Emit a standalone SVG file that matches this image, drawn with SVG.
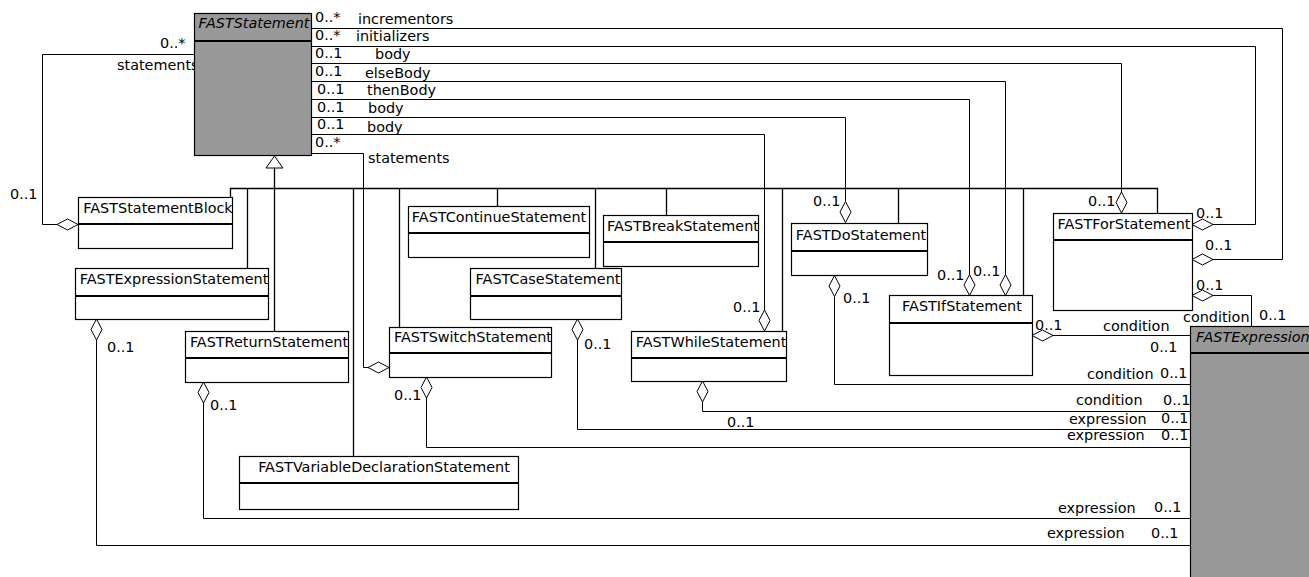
<svg xmlns="http://www.w3.org/2000/svg" xmlns:xlink="http://www.w3.org/1999/xlink" width="1309" height="577" viewBox="0 0 1309 577">
<style>
.box{fill:#fff;stroke:#000;stroke-width:1.2}
.abs{fill:#999}
.sep{stroke:#000;stroke-width:2}
text{font-family:"DejaVu Sans","Liberation Sans",sans-serif;font-size:14.4px;fill:#000}
.ttl{text-anchor:middle}
.it{font-style:italic}
.c{fill:none;stroke:#000;stroke-width:1}
.g{fill:none;stroke:#000;stroke-width:1.3}
.dia{fill:#fff;stroke:#000;stroke-width:1}
</style>
<defs>
<polygon id="dh" class="dia" points="-10.5,0 0,-5.5 10.5,0 0,5.5"/>
<polygon id="dv" class="dia" points="0,-10.5 5.5,0 0,10.5 -5.5,0"/>
</defs>
<rect width="1309" height="577" fill="#fff"/>

<g id="connectors">
  <g id="generalization">
    <path class="g" d="M274.5,168 V331"/>
    <path class="g" d="M230.5,197 V188.5 H1157.5 V213"/>
    <path class="g" d="M247.5,188 V268 M353.5,188 V456 M399.5,188 V327 M497.5,188 V206 M595.5,188 V268 M666.5,188 V215 M782.5,188 V331 M898.5,188 V223 M1023.5,188 V295"/>
    <polygon class="dia" points="274.5,156 266,168 283,168"/>
  </g>
  <g id="associations">
    <path class="c" d="M194,54.5 H42.5 V224.5 H57"/>
    <path class="c" d="M311,28.5 H1282.5 V259.5 H1213"/>
    <path class="c" d="M311,46.5 H1255.5 V224.5 H1213"/>
    <path class="c" d="M311,63.5 H1121.5 V192"/>
    <path class="c" d="M311,81.5 H1005.5 V275"/>
    <path class="c" d="M311,99.5 H969.5 V275"/>
    <path class="c" d="M311,117.5 H845.5 V201"/>
    <path class="c" d="M311,134.5 H764.5 V310"/>
    <path class="c" d="M311,153.5 H363.5 V367.5 H368"/>
    <path class="c" d="M1053,335.5 H1190"/>
    <path class="c" d="M1213,295.5 H1251.5 V326"/>
    <path class="c" d="M834.5,297 V384.5 H1190"/>
    <path class="c" d="M702.5,402 V411.5 H1190"/>
    <path class="c" d="M577.5,340 V429.5 H1190"/>
    <path class="c" d="M426.5,398 V447.5 H1190"/>
    <path class="c" d="M203.5,403 V518.5 H1190"/>
    <path class="c" d="M96.5,340 V545.5 H1190"/>
    <use xlink:href="#dh" x="67.5" y="224.5"/>
    <use xlink:href="#dh" x="1202.5" y="259.5"/>
    <use xlink:href="#dh" x="1202.5" y="224.5"/>
    <use xlink:href="#dv" x="1121.5" y="202.5"/>
    <use xlink:href="#dv" x="1005.5" y="285"/>
    <use xlink:href="#dv" x="969.5" y="285"/>
    <use xlink:href="#dv" x="845.5" y="212"/>
    <use xlink:href="#dv" x="764.5" y="320.5"/>
    <use xlink:href="#dh" x="378.5" y="367.5"/>
    <use xlink:href="#dh" x="1042.5" y="335.5"/>
    <use xlink:href="#dh" x="1202.5" y="295.5"/>
    <use xlink:href="#dv" x="834.5" y="286"/>
    <use xlink:href="#dv" x="702.5" y="391.5"/>
    <use xlink:href="#dv" x="577.5" y="329.5"/>
    <use xlink:href="#dv" x="426.5" y="387.5"/>
    <use xlink:href="#dv" x="203.5" y="392.5"/>
    <use xlink:href="#dv" x="96.5" y="329.5"/>
  </g>
  <g id="labels">
    <text x="160" y="48">0..*</text>
    <text x="117" y="70">statements</text>
    <text x="10" y="199">0..1</text>
    <text x="315" y="22">0..*</text>
    <text x="358" y="24">incrementors</text>
    <text x="315" y="40">0..*</text>
    <text x="356" y="41">initializers</text>
    <text x="315" y="58">0..1</text>
    <text x="375" y="59">body</text>
    <text x="315" y="76">0..1</text>
    <text x="365" y="78">elseBody</text>
    <text x="317" y="94">0..1</text>
    <text x="367" y="95">thenBody</text>
    <text x="317" y="112">0..1</text>
    <text x="368" y="113">body</text>
    <text x="317" y="129">0..1</text>
    <text x="367" y="132">body</text>
    <text x="315" y="147">0..*</text>
    <text x="368" y="163">statements</text>
    <text x="1205" y="250">0..1</text>
    <text x="1196" y="218">0..1</text>
    <text x="1088" y="206">0..1</text>
    <text x="973" y="276">0..1</text>
    <text x="937" y="280">0..1</text>
    <text x="813" y="206">0..1</text>
    <text x="733" y="312">0..1</text>
    <text x="1035" y="330">0..1</text>
    <text x="1103" y="331">condition</text>
    <text x="1150" y="352">0..1</text>
    <text x="1196" y="290">0..1</text>
    <text x="1183" y="322">condition</text>
    <text x="1259" y="320">0..1</text>
    <text x="843" y="303">0..1</text>
    <text x="1087" y="379">condition</text>
    <text x="1160" y="378">0..1</text>
    <text x="1076" y="405">condition</text>
    <text x="1163" y="405">0..1</text>
    <text x="727" y="427">0..1</text>
    <text x="584" y="349">0..1</text>
    <text x="1069" y="424">expression</text>
    <text x="1161" y="423">0..1</text>
    <text x="394" y="400">0..1</text>
    <text x="1067" y="440">expression</text>
    <text x="1161" y="440">0..1</text>
    <text x="210" y="410">0..1</text>
    <text x="1058" y="513">expression</text>
    <text x="1154" y="512">0..1</text>
    <text x="107" y="352">0..1</text>
    <text x="1047" y="538">expression</text>
    <text x="1151" y="538">0..1</text>
  </g>
</g>

<g id="FASTStatement">
  <rect class="box abs" x="194.5" y="13.5" width="117" height="142"/>
  <line class="sep" x1="194.5" y1="41" x2="311.5" y2="41"/>
  <text class="ttl it" x="254" y="28">FASTStatement</text>
</g>
<g id="FASTStatementBlock">
  <rect class="box" x="78.5" y="197.5" width="154" height="51"/>
  <line class="sep" x1="78.5" y1="224" x2="232.5" y2="224"/>
  <text class="ttl" x="158" y="213">FASTStatementBlock</text>
</g>
<g id="FASTExpressionStatement">
  <rect class="box" x="75.5" y="268.5" width="193" height="51"/>
  <line class="sep" x1="75.5" y1="296" x2="268.5" y2="296"/>
  <text class="ttl" x="174" y="284">FASTExpressionStatement</text>
</g>
<g id="FASTReturnStatement">
  <rect class="box" x="185.5" y="331.5" width="163" height="51"/>
  <line class="sep" x1="185.5" y1="358" x2="348.5" y2="358"/>
  <text class="ttl" x="269" y="347">FASTReturnStatement</text>
</g>
<g id="FASTVariableDeclarationStatement">
  <rect class="box" x="239.5" y="456.5" width="279" height="53"/>
  <line class="sep" x1="239.5" y1="483" x2="518.5" y2="483"/>
  <text class="ttl" x="384" y="472">FASTVariableDeclarationStatement</text>
</g>
<g id="FASTContinueStatement">
  <rect class="box" x="408.5" y="206.5" width="181" height="51"/>
  <line class="sep" x1="408.5" y1="233" x2="589.5" y2="233"/>
  <text class="ttl" x="499" y="222">FASTContinueStatement</text>
</g>
<g id="FASTCaseStatement">
  <rect class="box" x="470.5" y="268.5" width="151" height="51"/>
  <line class="sep" x1="470.5" y1="296" x2="621.5" y2="296"/>
  <text class="ttl" x="548" y="284">FASTCaseStatement</text>
</g>
<g id="FASTSwitchStatement">
  <rect class="box" x="389.5" y="327.5" width="162" height="50"/>
  <line class="sep" x1="389.5" y1="353" x2="551.5" y2="353"/>
  <text class="ttl" x="473" y="342">FASTSwitchStatement</text>
</g>
<g id="FASTBreakStatement">
  <rect class="box" x="603.5" y="215.5" width="155" height="51"/>
  <line class="sep" x1="603.5" y1="242" x2="758.5" y2="242"/>
  <text class="ttl" x="683" y="231">FASTBreakStatement</text>
</g>
<g id="FASTWhileStatement">
  <rect class="box" x="631.5" y="331.5" width="155" height="50"/>
  <line class="sep" x1="631.5" y1="358" x2="786.5" y2="358"/>
  <text class="ttl" x="711" y="347">FASTWhileStatement</text>
</g>
<g id="FASTDoStatement">
  <rect class="box" x="791.5" y="223.5" width="136" height="52"/>
  <line class="sep" x1="791.5" y1="251" x2="927.5" y2="251"/>
  <text class="ttl" x="861" y="240">FASTDoStatement</text>
</g>
<g id="FASTIfStatement">
  <rect class="box" x="889.5" y="295.5" width="143" height="80"/>
  <line class="sep" x1="889.5" y1="323" x2="1032.5" y2="323"/>
  <text class="ttl" x="962" y="311">FASTIfStatement</text>
</g>
<g id="FASTForStatement">
  <rect class="box" x="1053.5" y="213.5" width="139" height="97"/>
  <line class="sep" x1="1053.5" y1="240" x2="1192.5" y2="240"/>
  <text class="ttl" x="1124" y="229">FASTForStatement</text>
</g>
<g id="FASTExpression">
  <rect class="box abs" x="1190.5" y="326.5" width="130" height="260"/>
  <line class="sep" x1="1190.5" y1="353" x2="1320" y2="353"/>
  <text class="it" x="1196" y="342">FASTExpression</text>
</g>
</svg>
